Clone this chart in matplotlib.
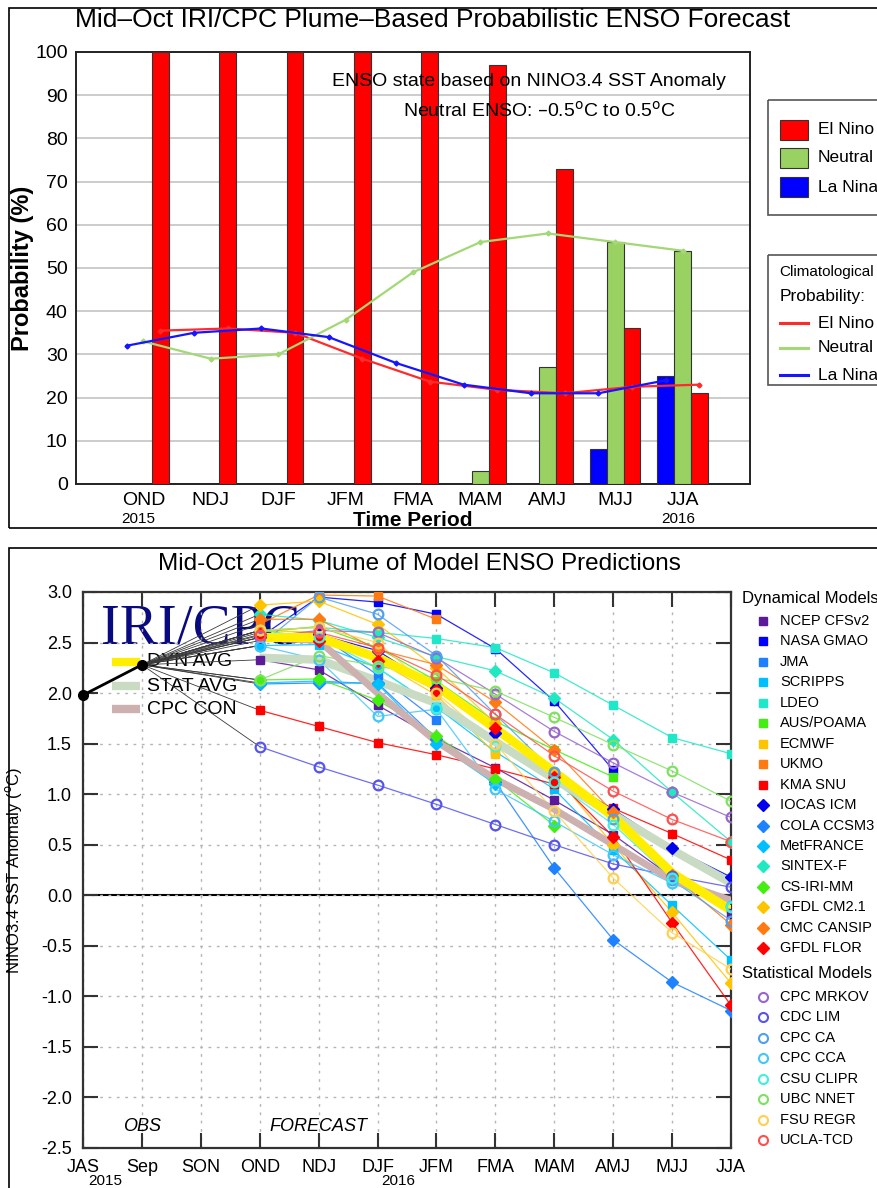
import matplotlib
matplotlib.use("Agg")
import matplotlib.pyplot as plt
from matplotlib.patches import Rectangle

# ---------------- top panel data ----------------
seasons = ["OND", "NDJ", "DJF", "JFM", "FMA", "MAM", "AMJ", "MJJ", "JJA"]
el_nino = [100, 100, 100, 100, 100, 97, 73, 36, 21]
neutral = [0, 0, 0, 0, 0, 3, 27, 56, 54]
la_nina = [0, 0, 0, 0, 0, 0, 0, 8, 25]
clim_el_nino = [35.5, 36, 35, 29, 23.7, 21.8, 21, 22.5, 23]
clim_neutral = [33, 29, 30, 38, 49, 56, 58, 56, 54]
clim_la_nina = [32, 35, 36, 34, 28, 23, 21, 21, 24]

# ---------------- bottom panel data ----------------
months = ["JAS", "Sep", "SON", "OND", "NDJ", "DJF", "JFM", "FMA", "MAM", "AMJ", "MJJ", "JJA"]
obs = [1.98, 2.28]

ncep_cfsv2 = [2.33, 2.23, 1.88, 1.55, 1.26, 0.94, 0.60, 0.18, -0.18]
nasa_gmao = [2.55, 2.95, 2.90, 2.78, 2.44, 1.92, 1.24]
jma = [2.52, 2.58, 2.18, 1.73]
scripps = [2.47, 2.48, 2.25, 1.86, 1.42, 1.05, 0.45, -0.10, -0.64]
ldeo = [2.62, 2.65, 2.60, 2.54, 2.45, 2.20, 1.88, 1.56, 1.40]
aus_poama = [2.60, 2.66, 2.45, 2.12, 1.72, 1.44, 1.17]
ecmwf = [2.62, 2.60, 2.32, 1.98, 1.40]
ukmo = [2.68, 2.97, 2.96, 2.73]
kma_snu = [1.83, 1.67, 1.51, 1.39, 1.25, 1.10, 0.86, 0.61, 0.35]
iocas_icm = [2.55, 2.58, 2.42, 2.05, 1.61, 1.20, 0.85, 0.47, 0.18]
cola_ccsm3 = [2.09, 2.10, 2.10, 1.55, 1.12, 0.27, -0.44, -0.86, -1.14]
metfrance = [2.10, 2.12, 2.09, 1.50, 1.10]
sintex_f = [2.78, 2.72, 2.55, 2.36, 2.22, 1.95, 1.54, 1.02, 0.53]
cs_iri_mm = [2.13, 2.14, 1.93, 1.58, 1.15, 0.69]
gfdl_cm21 = [2.87, 2.91, 2.68, 2.25, 1.70, 1.20, 0.50, -0.17, -0.87]
cmc_cansip = [2.73, 2.73, 2.43, 2.28, 1.91, 1.44, 0.82, 0.20, -0.29]
gfdl_flor = [2.58, 2.52, 2.32, 2.03, 1.65, 1.17, 0.58, -0.27, -1.09]

cpc_mrkov = [2.55, 2.62, 2.60, 2.35, 1.99, 1.62, 1.31, 1.02, 0.77]
cdc_lim = [1.47, 1.27, 1.09, 0.90, 0.70, 0.50, 0.31, 0.19, 0.08]
cpc_ca = [2.47, 2.95, 2.78, 2.37, 1.79, 1.22, 0.75, 0.15, -0.25]
cpc_cca = [2.47, 2.33, 1.77, 1.84, 1.05, 0.73, 0.40, 0.12, -0.11]
csu_clipr = [2.62, 2.55, 2.25, 1.85, 1.48, 1.12, 0.70, 0.17, -0.12]
ubc_nnet = [2.13, 2.37, 2.27, 2.15, 2.02, 1.76, 1.49, 1.23, 0.93]
fsu_regr = [2.62, 2.65, 2.50, 2.00, 1.50, 0.83, 0.17, -0.37, -0.73]
ucla_tcd = [2.57, 2.60, 2.45, 2.18, 1.79, 1.38, 1.03, 0.75, 0.53]

dyn_avg = [2.55, 2.55, 2.35, 2.07, 1.65, 1.22, 0.78, 0.22, -0.15]
stat_avg = [2.35, 2.33, 2.12, 1.90, 1.52, 1.15, 0.80, 0.45, 0.12]
cpc_con = [2.55, 2.52, 2.00, 1.52, 1.15, 0.85, 0.50, 0.15, -0.05]

dyn_models = [
    ("NCEP CFSv2", ncep_cfsv2), ("NASA GMAO", nasa_gmao), ("JMA", jma),
    ("SCRIPPS", scripps), ("LDEO", ldeo), ("AUS/POAMA", aus_poama),
    ("ECMWF", ecmwf), ("UKMO", ukmo), ("KMA SNU", kma_snu),
    ("IOCAS ICM", iocas_icm), ("COLA CCSM3", cola_ccsm3), ("MetFRANCE", metfrance),
    ("SINTEX-F", sintex_f), ("CS-IRI-MM", cs_iri_mm), ("GFDL CM2.1", gfdl_cm21),
    ("CMC CANSIP", cmc_cansip), ("GFDL FLOR", gfdl_flor),
]
stat_models = [
    ("CPC MRKOV", cpc_mrkov), ("CDC LIM", cdc_lim), ("CPC CA", cpc_ca),
    ("CPC CCA", cpc_cca), ("CSU CLIPR", csu_clipr), ("UBC NNET", ubc_nnet),
    ("FSU REGR", fsu_regr), ("UCLA-TCD", ucla_tcd),
]

# styles
DYN_COLORS = ["#5b1a9a", "#0000ff", "#1e7fff", "#00bfff", "#1ee8c8", "#44ee11",
              "#ffc400", "#ff7a10", "#ff0000",
              "#0000ee", "#1e82ff", "#00bfff", "#20e8c0", "#44ee11", "#ffc400",
              "#ff7a10", "#ff0000"]
DYN_MARKERS = ["s"] * 9 + ["D"] * 8
STAT_COLORS = ["#9966cc", "#5555ee", "#4fa0f0", "#40c8f8", "#40f0d8", "#80e060",
               "#ffd050", "#ff5050"]

W, H = 877, 1188
NARROW = ["Liberation Sans Narrow", "Liberation Sans", "DejaVu Sans"]
SANS = ["Liberation Sans", "DejaVu Sans"]


def fx(x):
    return x / W


def fy(y):
    return 1 - y / H


fig = plt.figure(figsize=(W / 100, H / 100), dpi=100)
fig.patch.set_facecolor("white")

# panel frames
fig.add_artist(Rectangle((fx(9), fy(528)), 1, fy(8) - fy(528), transform=fig.transFigure,
                         fill=False, ec="black", lw=1.2))
fig.add_artist(Rectangle((fx(9), fy(1200)), 1, fy(548) - fy(1200), transform=fig.transFigure,
                         fill=False, ec="black", lw=1.2))

# ======================= top panel =======================
ax1 = fig.add_axes([fx(76), fy(484), fx(750) - fx(76), fy(52) - fy(484)])
pos = list(range(1, len(seasons) + 1))
bw = 0.25
ax1.bar([p - bw for p in pos], la_nina, width=bw, color="#0000ff", ec="#333333", lw=0.8, zorder=3)
ax1.bar(pos, neutral, width=bw, color="#99d162", ec="#333333", lw=0.8, zorder=3)
ax1.bar([p + bw for p in pos], el_nino, width=bw, color="#ff0000", ec="#333333", lw=0.8, zorder=3)
ax1.plot([p + bw for p in pos], clim_el_nino, color="#ff2a2a", lw=1.6, marker="D", ms=2.5, zorder=4)
ax1.plot(pos, clim_neutral, color="#a2d875", lw=1.6, marker="D", ms=2.5, zorder=4)
ax1.plot([p - bw for p in pos], clim_la_nina, color="#1515ff", lw=1.6, marker="D", ms=2.5, zorder=4)
ax1.set_xlim(0, 10)
ax1.set_ylim(0, 100)
ax1.set_yticks(range(0, 101, 10))
ax1.set_xticks(pos)
ax1.set_xticklabels(seasons, family=NARROW, fontsize=14)
for t in ax1.get_yticklabels():
    t.set_family(NARROW)
    t.set_fontsize(14)
ax1.tick_params(length=0, pad=6)
ax1.grid(axis="y", color="#c8c8c8", lw=1.3, zorder=0)
ax1.set_axisbelow(True)
for s in ax1.spines.values():
    s.set_color("#222222")
    s.set_linewidth(1.4)
ax1.set_ylabel("Probability (%)", fontsize=17, fontweight="bold", family=SANS, labelpad=1)
fig.text(fx(433), fy(20), "Mid\u2013Oct IRI/CPC Plume\u2013Based Probabilistic ENSO Forecast",
         ha="center", va="center", fontsize=19, family=NARROW)
fig.text(fx(413), fy(521), "Time Period", ha="center", va="center", fontsize=15,
         fontweight="bold", family=NARROW)
fig.text(fx(138), fy(519), "2015", ha="center", va="center", fontsize=11, family=NARROW)
fig.text(fx(678), fy(519), "2016", ha="center", va="center", fontsize=11, family=NARROW)
fig.text(fx(529), fy(81), "ENSO state based on NINO3.4 SST Anomaly", ha="center", va="center",
         fontsize=14, family=NARROW)
fig.text(fx(540), fy(111), "Neutral ENSO: \u20130.5$^{\\rm o}$C to 0.5$^{\\rm o}$C", ha="center",
         va="center", fontsize=14, family=NARROW)

# top legends (drawn in pixel space)
lax = fig.add_axes([0, 0, 1, 1], zorder=10)
lax.set_xlim(0, W)
lax.set_ylim(H, 0)
lax.axis("off")
lax.add_patch(Rectangle((768, 100), 200, 115, fill=False, ec="#555555", lw=1.2))
for yy, c, lab in [(130, "#ff0000", "El Nino"), (158, "#99d162", "Neutral"), (187, "#0000ff", "La Nina")]:
    lax.add_patch(Rectangle((780, yy - 10), 28, 20, fc=c, ec="#333333", lw=0.8))
    lax.text(818, yy, lab, va="center", fontsize=12.5, family=NARROW)
lax.add_patch(Rectangle((768, 255), 200, 130, fill=False, ec="#555555", lw=1.2))
lax.text(779, 272, "Climatological", va="center", fontsize=11, family=NARROW)
lax.text(780, 296, "Probability:", va="center", fontsize=12.5, family=NARROW)
for yy, c, lab in [(323, "#ff2a2a", "El Nino"), (348, "#a2d875", "Neutral"), (375, "#1515ff", "La Nina")]:
    lax.plot([780, 808], [yy, yy], color=c, lw=2.2)
    lax.text(818, yy, lab, va="center", fontsize=12.5, family=NARROW)

# ======================= bottom panel =======================
ax2 = fig.add_axes([fx(83), fy(1148), fx(731) - fx(83), fy(592) - fy(1148)])
xm = list(range(len(months)))
first = months.index("OND")

# fan from last observation to first forecast of each model
for _, vals in dyn_models + stat_models:
    ax2.plot([1, first], [obs[-1], vals[0]], color="#3a3a3a", lw=0.6, zorder=2)

for (name, vals), c in zip(dyn_models + stat_models, DYN_COLORS + STAT_COLORS):
    ax2.plot(range(first, first + len(vals)), vals, color=c, lw=0.9, alpha=0.85, zorder=3)

ax2.plot(range(first, first + len(stat_avg)), stat_avg, color="#c9dcc3", lw=6, zorder=4,
         solid_capstyle="butt")
ax2.plot(range(first, first + len(cpc_con)), cpc_con, color="#cdb0b0", lw=5, zorder=4,
         solid_capstyle="butt")
ax2.plot(range(first, first + len(dyn_avg)), dyn_avg, color="#ffee00", lw=6.5, zorder=4,
         solid_capstyle="butt")

for (name, vals), c, m in zip(dyn_models, DYN_COLORS, DYN_MARKERS):
    ax2.plot(range(first, first + len(vals)), vals, ls="none", marker=m, color=c,
             ms=6 if m == "s" else 6.3, zorder=5)
for (name, vals), c in zip(stat_models, STAT_COLORS):
    ax2.plot(range(first, first + len(vals)), vals, ls="none", marker="o", mfc="none",
             mec=c, mew=1.6, ms=7, zorder=5)

ax2.plot(range(len(obs)), obs, color="black", lw=2, marker="o", ms=7, zorder=6, clip_on=False)
ax2.axhline(0, color="black", lw=1.5, zorder=1)

ax2.set_xlim(0, len(months) - 1)
ax2.set_ylim(-2.5, 3.0)
ax2.set_xticks(xm)
ax2.set_xticklabels(months, family=SANS, fontsize=13)
yt = [-2.5 + 0.5 * i for i in range(12)]
ax2.set_yticks(yt)
ax2.set_yticklabels([f"{v:.1f}" for v in yt], family=SANS, fontsize=13)
ax2.tick_params(direction="in", length=11, width=1.5, color="#333333", top=True, right=True,
                pad=8)
ax2.grid(True, color="#b5b5b5", lw=1.0, ls=(0, (2, 4)), zorder=0)
for s in ax2.spines.values():
    s.set_color("#333333")
    s.set_linewidth(1.6)
ax2.set_ylabel("NINO3.4 SST Anomaly ($^{\\rm o}$C)", family=SANS, fontsize=12, labelpad=12)

ax2.text(1, -2.29, "OBS", ha="center", va="center", style="italic", fontsize=13, family=SANS)
ax2.text(4, -2.29, "FORECAST", ha="center", va="center", style="italic", fontsize=13, family=SANS)
fig.text(fx(105), fy(1174), "2015", ha="center", va="top", fontsize=11, family=SANS)
fig.text(fx(398), fy(1174), "2016", ha="center", va="top", fontsize=11, family=SANS)

fig.text(fx(419), fy(564), "Mid-Oct 2015 Plume of Model ENSO Predictions", ha="center",
         va="center", fontsize=17.5, family=SANS)

# logo and averages key
ax2.text(0.3, 2.63, "IRI/CPC", color="#0a0a80", fontsize=41,
         family=["Liberation Serif", "DejaVu Serif"], va="center", ha="left", zorder=1.5)
for yy, c, lab in [(2.31, "#ffee00", "DYN AVG"), (2.07, "#c9dcc3", "STAT AVG"), (1.84, "#cdb0b0", "CPC CON")]:
    ax2.plot([0.49, 0.97], [yy, yy], color=c, lw=6, solid_capstyle="butt", zorder=1.6)
    ax2.text(1.09, yy, lab, va="center", fontsize=14, family=SANS, zorder=1.6)

# model key (pixel space)
lax.text(742, 598, "Dynamical Models", va="center", fontsize=12, family=SANS)
for i, ((name, _), c, m) in enumerate(zip(dyn_models, DYN_COLORS, DYN_MARKERS)):
    yy = 621 + 20.45 * i
    lax.plot(763, yy, marker=m, color=c, ms=5.5 if m == "s" else 6, ls="none")
    lax.text(780, yy, name, va="center", fontsize=10.5, family=SANS)
lax.text(742, 973, "Statistical Models", va="center", fontsize=12, family=SANS)
for i, ((name, _), c) in enumerate(zip(stat_models, STAT_COLORS)):
    yy = 997 + 20.45 * i
    lax.plot(763, yy, marker="o", mfc="none", mec=c, mew=1.5, ms=6.5, ls="none")
    lax.text(780, yy, name, va="center", fontsize=10.5, family=SANS)

fig.savefig("out.png", dpi=100)
